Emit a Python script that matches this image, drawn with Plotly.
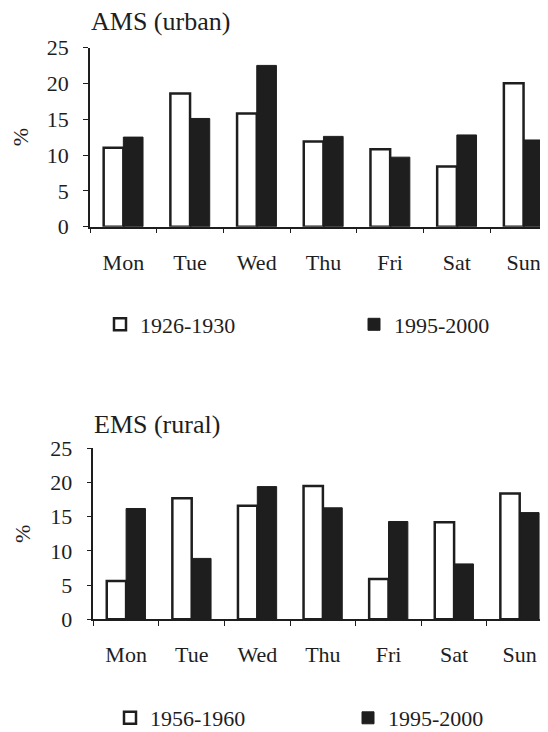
import plotly.graph_objects as go

days = ["Mon", "Tue", "Wed", "Thu", "Fri", "Sat", "Sun"]
ams_1926_1930 = [11.0, 18.6, 15.8, 11.9, 10.8, 8.4, 20.0]
ams_1995_2000 = [12.5, 15.1, 22.5, 12.6, 9.7, 12.8, 12.1]
ems_1956_1960 = [5.6, 17.7, 16.6, 19.5, 5.9, 14.2, 18.4]
ems_1995_2000 = [16.2, 8.9, 19.4, 16.3, 14.3, 8.1, 15.6]
y_ticks = [0, 5, 10, 15, 20, 25]

# The page body has an 8px default margin, so the figure is drawn at (8, 8)
# in a 548x732 window; size it to end exactly at the window edge.
OFF = 8
SW, SH = 548, 732
W, H = SW - OFF, SH - OFF
FONT = "Liberation Serif, Times New Roman, serif"
INK = "#1e1e1e"

fig = go.Figure()

def add_pair(white_vals, black_vals, white_name, black_name, xa, ya, leg_w, leg_b):
    fig.add_trace(go.Bar(x=days, y=white_vals, name=white_name, xaxis=xa, yaxis=ya,
                         marker=dict(color="white", line=dict(color=INK, width=2.5)),
                         legend=leg_w))
    fig.add_trace(go.Bar(x=days, y=black_vals, name=black_name, xaxis=xa, yaxis=ya,
                         marker=dict(color=INK, line=dict(color=INK, width=1)),
                         legend=leg_b))

add_pair(ams_1926_1930, ams_1995_2000, "1926-1930", "1995-2000", "x", "y", "legend", "legend2")
add_pair(ems_1956_1960, ems_1995_2000, "1956-1960", "1995-2000", "x2", "y2", "legend3", "legend4")

def px_x(s):
    return (s - OFF) / W

def px_y(s):
    return 1 - (s - OFF) / H

axis_font = dict(family=FONT, size=22, color=INK)

xcommon = dict(type="category", tickson="boundaries", ticks="outside", ticklen=5,
               tickwidth=1.2, tickcolor=INK, showline=True, linecolor=INK, linewidth=1.5,
               showgrid=False, zeroline=False, tickfont=axis_font, ticklabelstandoff=15,
               fixedrange=True)
ycommon = dict(range=[0, 25], tickvals=y_ticks, ticks="outside", ticklen=5, tickwidth=1.2,
               tickcolor=INK, showline=True, linecolor=INK, linewidth=1.5, showgrid=False,
               zeroline=False, tickfont=axis_font, ticklabelstandoff=10,
               title=dict(text="%", font=dict(family=FONT, size=22, color=INK), standoff=13))

def leg(xs, ys):
    return dict(orientation="h", x=px_x(xs), y=px_y(ys), xanchor="left", yanchor="middle",
                font=dict(family=FONT, size=22, color=INK), bgcolor="rgba(0,0,0,0)",
                borderwidth=0)

fig.update_layout(
    width=W, height=H, autosize=False,
    margin=dict(l=0, r=0, t=0, b=0, autoexpand=False),
    paper_bgcolor="white", plot_bgcolor="white",
    barmode="group", bargap=0.41, bargroupgap=0,
    font=dict(family=FONT, color=INK),
    xaxis=dict(domain=[px_x(90), 1], range=[-0.5, -0.5 + (SW - 90) / 66.7], anchor="y", **xcommon),
    yaxis=dict(domain=[px_y(226.7), px_y(47.5)], anchor="x", **ycommon),
    xaxis2=dict(domain=[px_x(93.3), 1], range=[-0.5, -0.5 + (SW - 93.3) / 65.6], anchor="y2", **xcommon),
    yaxis2=dict(domain=[px_y(619.3), px_y(448.3)], anchor="x2", **ycommon),
    legend=leg(100, 324.5),
    legend2=leg(354, 324.5),
    legend3=leg(110, 718),
    legend4=leg(348, 718),
    showlegend=True,
    annotations=[
        dict(text="AMS (urban)", x=px_x(88.5), y=px_y(21), xref="paper", yref="paper",
             xanchor="left", yanchor="middle", showarrow=False,
             font=dict(family=FONT, size=26, color=INK)),
        dict(text="EMS (rural)", x=px_x(92), y=px_y(424), xref="paper", yref="paper",
             xanchor="left", yanchor="middle", showarrow=False,
             font=dict(family=FONT, size=26, color=INK)),
    ],
)

fig.write_html("out.html")
